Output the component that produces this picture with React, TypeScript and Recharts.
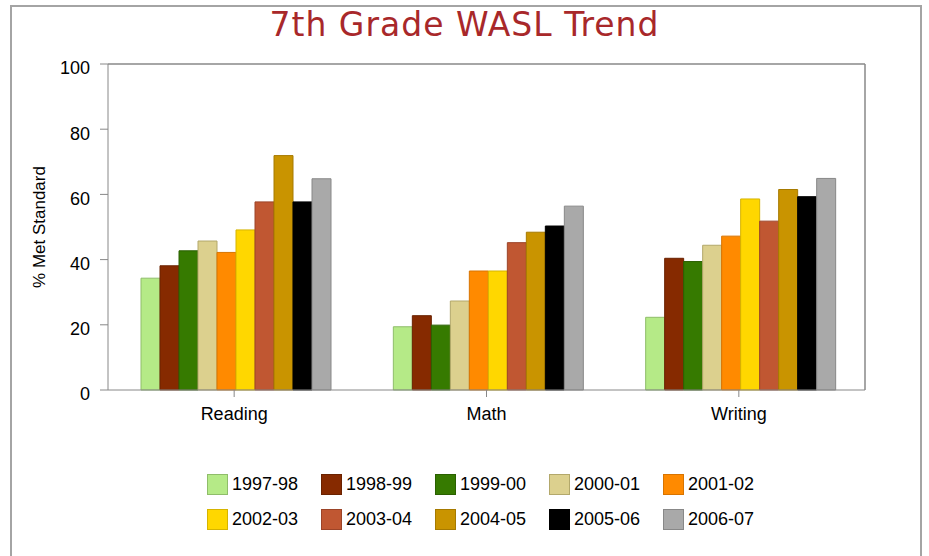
import React from "react";
import { Bar, BarChart, CartesianGrid, Legend, XAxis, YAxis } from "recharts";

const subjects = ["Reading", "Math", "Writing"];
const years = [
  "1997-98", "1998-99", "1999-00", "2000-01", "2001-02",
  "2002-03", "2003-04", "2004-05", "2005-06", "2006-07",
];
const reading = [34.3, 38.1, 42.7, 45.7, 42.2, 49.1, 57.7, 71.9, 57.7, 64.8];
const math = [19.4, 22.8, 19.9, 27.3, 36.5, 36.5, 45.2, 48.4, 50.3, 56.4];
const writing = [22.3, 40.4, 39.4, 44.4, 47.2, 58.6, 51.8, 61.5, 59.3, 64.9];
const yTicks = [0, 20, 40, 60, 80, 100];

const fills = [
  "#b5ea87", "#862a00", "#367a00", "#dcd08e", "#ff8a00",
  "#ffd700", "#c05732", "#c99400", "#000000", "#a9a9a9",
];
const strokes = [
  "#8fbd6a", "#6a2200", "#2a6000", "#b3a86b", "#d87400",
  "#d6b400", "#9c4428", "#a67a00", "#000000", "#888888",
];

const values = [reading, math, writing];
const data = subjects.map((subject, i) => {
  const row: Record<string, string | number> = { subject };
  years.forEach((y, j) => {
    row[y] = values[i][j];
  });
  return row;
});

const font = "'Liberation Sans', Arial, sans-serif";

function LegendBox() {
  return (
    <div
      style={{
        display: "grid",
        gridTemplateColumns: "repeat(5, 114px)",
        rowGap: 13,
        fontFamily: font,
        fontSize: 18,
        color: "#000",
      }}
    >
      {years.map((y, i) => (
        <div key={y} style={{ display: "flex", alignItems: "center", height: 22 }}>
          <span
            style={{
              display: "inline-block",
              width: 19,
              height: 19,
              background: fills[i],
              border: `1.5px solid ${strokes[i]}`,
              marginRight: 4,
            }}
          />
          <span>{y}</span>
        </div>
      ))}
    </div>
  );
}

export default function App() {
  return (
    <div
      style={{
        position: "absolute",
        left: 0,
        top: 0,
        width: 929,
        height: 556,
        overflow: "hidden",
        background: "#fff",
      }}
    >
      <div
        style={{
          position: "absolute",
          left: 10,
          top: 5,
          width: 908,
          height: 570,
          border: "2px solid #a4a4a4",
        }}
      />
      <div
        style={{
          position: "absolute",
          left: 0,
          top: 5,
          width: 929,
          textAlign: "center",
          fontFamily: "'DejaVu Sans', sans-serif",
          fontSize: 33,
          letterSpacing: 1,
          lineHeight: "40px",
          color: "#a8282a",
        }}
      >
        7th Grade WASL Trend
      </div>
      <div style={{ position: "absolute", left: 0, top: 0 }}>
        <BarChart
          width={929}
          height={556}
          data={data}
          margin={{ top: 64, right: 64, bottom: 19, left: 48 }}
          barCategoryGap={33}
          barGap={0}
        >
          <CartesianGrid
            stroke="#888"
            strokeWidth={1.5}
            horizontalCoordinatesGenerator={({ offset }: any) => [offset.top]}
            verticalCoordinatesGenerator={({ offset }: any) => [offset.left + offset.width]}
          />
          <XAxis
            dataKey="subject"
            height={75}
            stroke="#888"
            tickSize={7}
            tickMargin={10}
            tick={{ fill: "#000", fontSize: 18, fontFamily: font }}
          />
          <YAxis
            domain={[0, 100]}
            ticks={yTicks}
            width={60}
            stroke="#888"
            tickSize={8}
            tickMargin={10}
            tick={{ fill: "#000", fontSize: 18, fontFamily: font, dy: 4 }}
            label={{
              value: "% Met Standard",
              angle: -90,
              position: "insideLeft",
              offset: -9,
              style: { textAnchor: "middle", fill: "#000", fontSize: 17, fontFamily: font },
            }}
          />
          <Legend
            verticalAlign="bottom"
            content={() => <LegendBox />}
            wrapperStyle={{ left: 207, bottom: 11, width: 580, height: 72 }}
          />
          {years.map((y, i) => (
            <Bar
              key={y}
              dataKey={y}
              fill={fills[i]}
              stroke={strokes[i]}
              strokeWidth={1}
              isAnimationActive={false}
            />
          ))}
        </BarChart>
      </div>
    </div>
  );
}
